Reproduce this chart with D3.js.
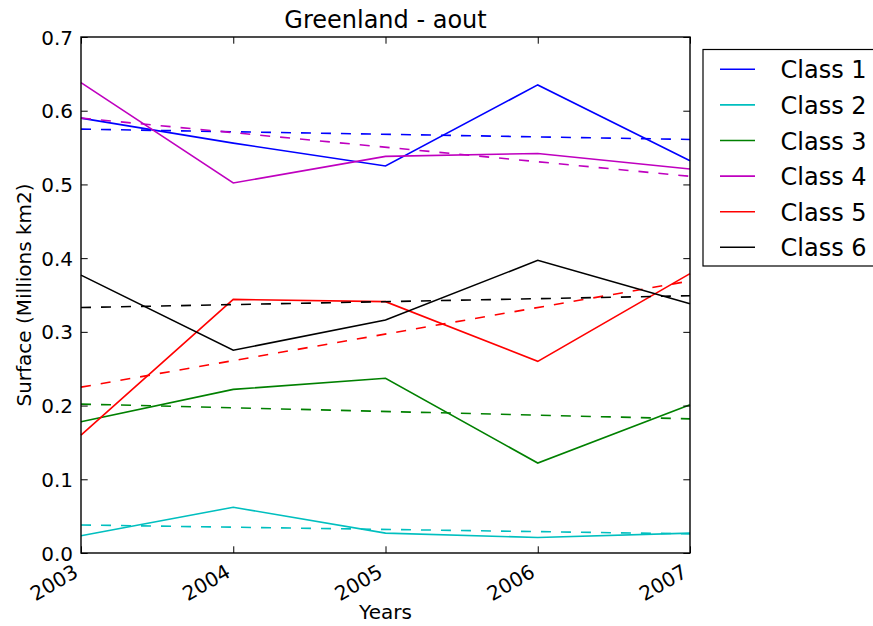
<!DOCTYPE html>
<html>
<head>
<meta charset="utf-8">
<script src="https://cdn.jsdelivr.net/npm/d3@7"></script>
<style>
  html, body { margin: 0; padding: 0; background: #fff; }
  svg { display: block; font-family: "DejaVu Sans", sans-serif; }
</style>
</head>
<body>
<svg id="chart" width="873" height="626"></svg>
<script>
const years = [2003, 2004, 2005, 2006, 2007];
const classNames = ["Class 1", "Class 2", "Class 3", "Class 4", "Class 5", "Class 6"];
const classColors = ["#0000ff", "#00bfbf", "#008000", "#bf00bf", "#ff0000", "#000000"];

const class1 = [0.590, 0.556, 0.525, 0.635, 0.532];
const class2 = [0.0235, 0.062, 0.027, 0.021, 0.027];
const class3 = [0.178, 0.222, 0.237, 0.122, 0.201];
const class4 = [0.638, 0.502, 0.538, 0.542, 0.521];
const class5 = [0.160, 0.344, 0.341, 0.260, 0.379];
const class6 = [0.377, 0.275, 0.316, 0.397, 0.338];

// trend lines (dashed): values at first and last year
const trendYears = [2003, 2007];
const trend1 = [0.575, 0.561];
const trend2 = [0.038, 0.026];
const trend3 = [0.202, 0.182];
const trend4 = [0.590, 0.511];
const trend5 = [0.225, 0.369];
const trend6 = [0.333, 0.349];

const yTicks = [0.0, 0.1, 0.2, 0.3, 0.4, 0.5, 0.6, 0.7];

const title = "Greenland - aout";
const xLabel = "Years";
const yLabel = "Surface (Millions km2)";

const series = [class1, class2, class3, class4, class5, class6];
const trends = [trend1, trend2, trend3, trend4, trend5, trend6];

const svg = d3.select("#chart");
const L = 81, R = 690, T = 37, B = 553;

const x = d3.scaleLinear().domain([2003, 2007]).range([L, R]);
const y = d3.scaleLinear().domain([0, 0.7]).range([B, T]);

const line = d3.line().x(d => x(d[0])).y(d => y(d[1]));

const plot = svg.append("g");
series.forEach((vals, i) => {
  plot.append("path")
    .datum(years.map((yr, j) => [yr, vals[j]]))
    .attr("d", line)
    .attr("fill", "none")
    .attr("stroke", classColors[i])
    .attr("stroke-width", 1.6)
    .attr("stroke-linejoin", "miter");
  plot.append("path")
    .datum(trendYears.map((yr, j) => [yr, trends[i][j]]))
    .attr("d", line)
    .attr("fill", "none")
    .attr("stroke", classColors[i])
    .attr("stroke-width", 1.6)
    .attr("stroke-dasharray", "10,10");
});

// axes
const fmtY = d3.format(".1f");
const axB = svg.append("g").attr("transform", `translate(0,${B})`)
  .call(d3.axisBottom(x).tickValues(years).tickSize(-6.7).tickFormat(d3.format("d")));
const axT = svg.append("g").attr("transform", `translate(0,${T})`)
  .call(d3.axisTop(x).tickValues(years).tickSize(-6.7).tickFormat(""));
const axL = svg.append("g").attr("transform", `translate(${L},0)`)
  .call(d3.axisLeft(y).tickValues(yTicks).tickSize(-6.7).tickFormat(fmtY));
const axR = svg.append("g").attr("transform", `translate(${R},0)`)
  .call(d3.axisRight(y).tickValues(yTicks).tickSize(-6.7).tickFormat(""));

[axB, axT, axL, axR].forEach(a => {
  a.select(".domain").remove();
  a.selectAll(".tick line").attr("stroke", "#000").attr("stroke-width", 1);
});

axL.selectAll(".tick text")
  .attr("x", -8).attr("dy", null).attr("y", 7)
  .attr("font-size", 20).attr("fill", "#000")
  .attr("font-family", "DejaVu Sans");

axB.selectAll(".tick text")
  .attr("x", null).attr("y", null).attr("dy", null)
  .attr("text-anchor", "end")
  .attr("transform", "translate(-2,23) rotate(-30)")
  .attr("font-size", 20).attr("fill", "#000")
  .attr("font-family", "DejaVu Sans");

// frame
svg.append("rect")
  .attr("x", L).attr("y", T).attr("width", R - L).attr("height", B - T)
  .attr("fill", "none").attr("stroke", "#000").attr("stroke-width", 1.4);

// title & labels
svg.append("text").attr("x", (L + R) / 2).attr("y", 28)
  .attr("text-anchor", "middle").attr("font-size", 24).text(title);
svg.append("text").attr("x", (L + R) / 2).attr("y", 619)
  .attr("text-anchor", "middle").attr("font-size", 20).text(xLabel);
svg.append("text").attr("transform", `translate(31,${(T + B) / 2}) rotate(-90)`)
  .attr("text-anchor", "middle").attr("font-size", 20).text(yLabel);

// legend
const leg = svg.append("g");
leg.append("rect").attr("x", 703).attr("y", 49.5).attr("width", 200).attr("height", 216.5)
  .attr("fill", "#fff").attr("stroke", "#000").attr("stroke-width", 1.2);
classNames.forEach((name, i) => {
  const ly = 69.3 + i * 35.6;
  leg.append("line").attr("x1", 720).attr("x2", 755).attr("y1", ly).attr("y2", ly)
    .attr("stroke", classColors[i]).attr("stroke-width", 1.6);
  leg.append("text").attr("x", 780.5).attr("y", ly + 9)
    .attr("font-size", 24).text(name);
});
</script>
</body>
</html>
